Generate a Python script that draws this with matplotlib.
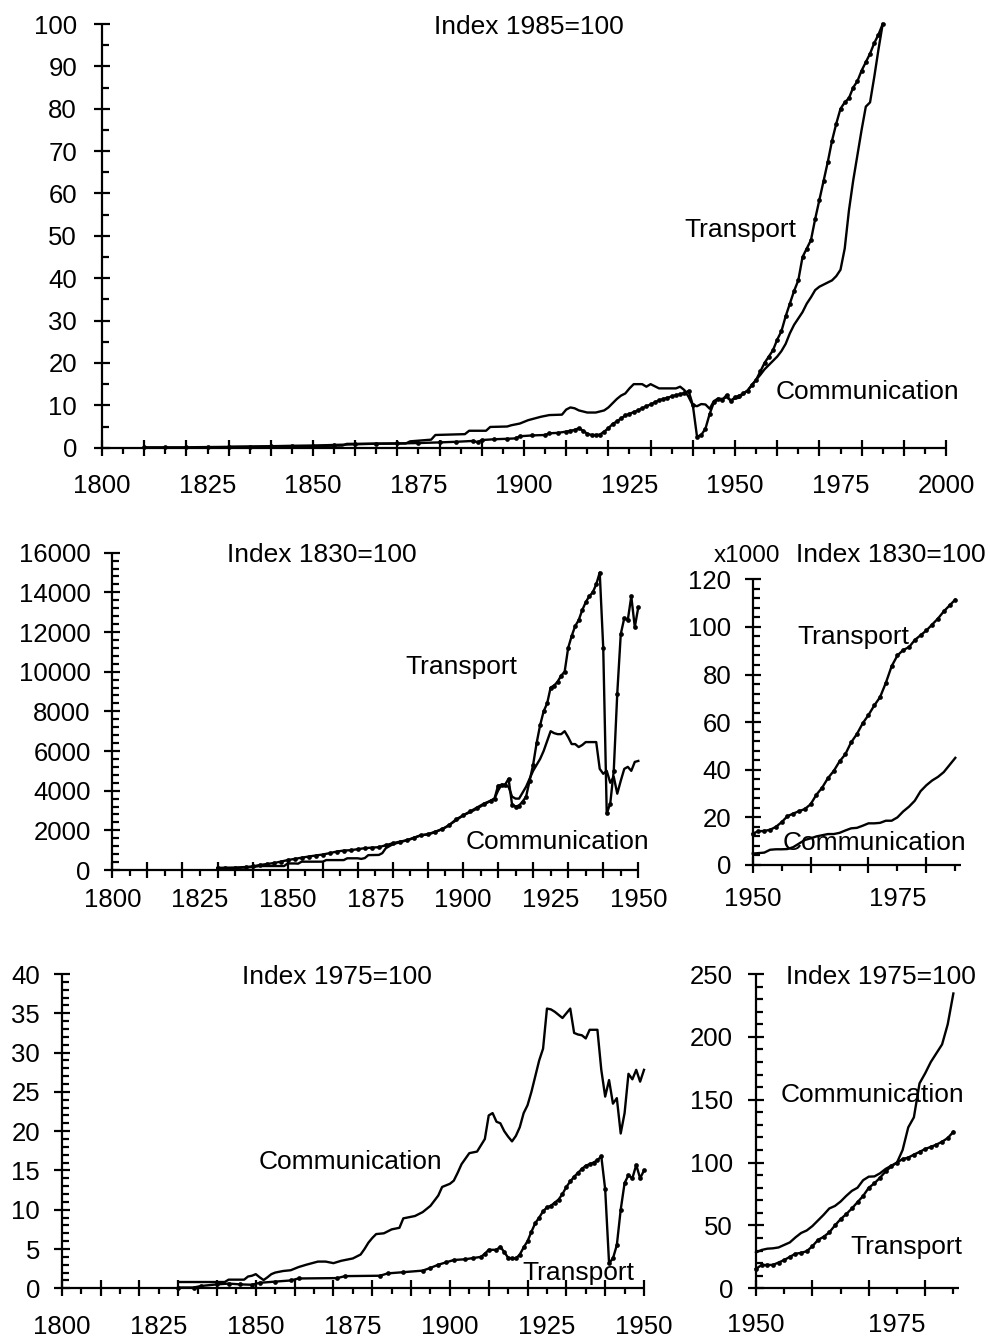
import matplotlib
matplotlib.use("Agg")
import matplotlib.pyplot as plt
from matplotlib.ticker import MultipleLocator, NullFormatter

plt.rcParams['font.family'] = ['Liberation Sans', 'DejaVu Sans']

# ---------------- data ----------------
# Top panel: Index 1985=100
top_transport_years = [1810, 1815, 1820, 1825, 1830, 1835, 1840, 1845, 1850, 1855, 1860, 1865, 1870,
                       1875, 1880, 1884, 1888, 1889, 1890, 1893, 1896, 1898, 1899, 1902, 1905, 1906,
                       1908, 1910, 1911, 1912, 1913, 1914, 1915, 1916, 1917, 1918, 1919, 1920, 1921,
                       1922, 1923, 1924, 1925, 1926, 1927, 1928, 1929, 1930, 1931, 1932, 1933, 1934,
                       1935, 1936, 1937, 1938, 1939, 1940, 1941, 1942, 1943, 1944, 1945, 1946, 1947,
                       1948, 1949, 1950, 1951, 1952, 1953, 1954, 1955, 1956, 1957, 1958, 1959, 1960,
                       1961, 1962, 1963, 1964, 1965, 1966, 1967, 1968, 1969, 1970, 1971, 1972, 1973,
                       1974, 1975, 1976, 1977, 1978, 1979, 1980, 1981, 1982, 1983, 1984, 1985]
top_transport_index = [0.1, 0.1, 0.1, 0.15, 0.2, 0.25, 0.35, 0.45, 0.5, 0.65, 0.8, 0.95, 1.0,
                       1.1, 1.25, 1.4, 1.6, 1.3, 1.8, 2.0, 2.1, 2.2, 2.7, 2.9, 3.0, 3.4,
                       3.5, 3.8, 4.0, 4.2, 4.6, 4.0, 3.3, 3.0, 3.0, 3.1, 3.8, 4.6, 5.6,
                       6.2, 6.9, 7.6, 8.0, 8.4, 8.8, 9.3, 9.8, 10.2, 10.7, 11.2, 11.5, 11.8,
                       12.1, 12.4, 12.6, 12.9, 13.4, 10.1, 2.6, 3.0, 4.5, 8.0, 10.7, 11.4, 11.3,
                       12.4, 11.0, 11.9, 12.3, 12.8, 13.5, 14.8, 16.0, 18.0, 20.0, 21.5, 23.0, 25.5,
                       27.5, 31.0, 34.0, 37.0, 39.5, 45.0, 47.0, 49.0, 54.0, 58.5, 63.0, 67.5, 72.5,
                       76.5, 80.0, 81.5, 82.5, 85.0, 86.5, 89.0, 91.0, 93.0, 95.5, 97.5, 100.0]

top_communication_years = [1830, 1840, 1850, 1857, 1858, 1872, 1873, 1878, 1879, 1886, 1887, 1891,
                           1892, 1896, 1897, 1899, 1901, 1904, 1906, 1909, 1910, 1911, 1912, 1913,
                           1915, 1917, 1919, 1920, 1921, 1922, 1923, 1924, 1925, 1926, 1927, 1928,
                           1929, 1930, 1931, 1932, 1936, 1937, 1938, 1939, 1940, 1941, 1942, 1943,
                           1944, 1945, 1946, 1947, 1948, 1949, 1950, 1951, 1952, 1953, 1954, 1955,
                           1956, 1957, 1958, 1959, 1960, 1961, 1962, 1963, 1964, 1965, 1966, 1967,
                           1968, 1969, 1970, 1971, 1972, 1973, 1974, 1975, 1976, 1977, 1978, 1979,
                           1980, 1981, 1982, 1983, 1984, 1985]
top_communication_index = [0.2, 0.3, 0.4, 0.5, 0.9, 1.0, 1.5, 1.9, 3.0, 3.2, 4.0, 4.0,
                           4.9, 5.0, 5.3, 5.7, 6.5, 7.3, 7.7, 7.8, 9.0, 9.5, 9.3, 8.8,
                           8.3, 8.3, 8.8, 9.5, 10.5, 11.5, 12.3, 12.8, 14.0, 15.0, 15.0, 15.0,
                           14.4, 15.0, 14.5, 14.0, 14.0, 14.4, 13.6, 12.0, 10.0, 9.8, 10.3, 10.2,
                           9.2, 11.0, 11.6, 11.5, 11.9, 11.2, 11.6, 11.8, 12.8, 13.5, 14.8, 16.0,
                           17.2, 18.5, 19.5, 20.5, 21.5, 22.8, 24.5, 27.0, 29.0, 30.5, 32.0, 34.0,
                           35.5, 37.2, 38.0, 38.5, 39.0, 39.5, 40.5, 42.0, 47.0, 56.0, 63.0, 69.0,
                           75.0, 80.5, 81.5, 87.5, 94.0, 100.0]

# Middle-left panel: Index 1830=100, 1830-1950
mid_transport_years = [1830, 1832, 1835, 1838, 1840, 1842, 1844, 1846, 1848, 1850, 1852, 1854, 1856,
                       1858, 1860, 1862, 1864, 1866, 1868, 1870, 1872, 1874, 1876, 1878, 1880, 1882,
                       1884, 1886, 1888, 1890, 1892, 1894, 1896, 1898, 1900, 1902, 1904, 1906, 1908,
                       1909, 1910, 1911, 1912, 1913, 1914, 1915, 1916, 1917, 1918, 1919, 1920, 1921,
                       1922, 1923, 1924, 1925, 1926, 1927, 1928, 1929, 1930, 1931, 1932, 1933, 1934,
                       1935, 1936, 1937, 1938, 1939, 1940, 1941, 1942, 1943, 1944, 1945, 1946, 1947,
                       1948, 1949, 1950]
mid_transport_index = [100, 110, 120, 150, 180, 250, 300, 350, 420, 500, 560, 620, 680,
                       730, 780, 850, 930, 980, 1000, 1050, 1100, 1130, 1150, 1250, 1350, 1430,
                       1500, 1630, 1750, 1800, 1930, 2050, 2250, 2550, 2750, 2950, 3150, 3350, 3500,
                       3600, 4250, 4300, 4300, 4600, 3300, 3200, 3250, 3450, 3700, 4500, 5300, 6400,
                       7300, 8000, 8400, 9200, 9300, 9500, 9800, 10000, 11200, 11800, 12300, 12600, 13100,
                       13500, 13800, 14000, 14400, 15000, 11200, 2850, 3350, 5000, 8900, 11900, 12700, 12600,
                       13800, 12250, 13250]

mid_communication_years = [1830, 1835, 1840, 1842, 1849, 1850, 1852, 1853, 1854, 1860, 1861, 1866,
                           1867, 1870, 1871, 1872, 1873, 1876, 1877, 1878, 1880, 1882, 1885, 1888,
                           1890, 1892, 1895, 1898, 1900, 1903, 1906, 1908, 1909, 1910, 1911, 1912,
                           1913, 1914, 1915, 1916, 1917, 1918, 1919, 1920, 1921, 1922, 1923, 1924,
                           1925, 1926, 1927, 1928, 1929, 1930, 1931, 1932, 1933, 1934, 1935, 1936,
                           1937, 1938, 1939, 1940, 1941, 1942, 1943, 1944, 1945, 1946, 1947, 1948,
                           1949, 1950]
mid_communication_index = [100, 100, 150, 200, 200, 330, 330, 320, 420, 420, 500, 500,
                           590, 590, 560, 600, 750, 760, 850, 1100, 1300, 1400, 1550, 1750,
                           1800, 1900, 2150, 2500, 2750, 3000, 3300, 3500, 3600, 4000, 4300, 4250,
                           4200, 3700, 3600, 3600, 3900, 4200, 4600, 5000, 5300, 5600, 6000, 6500,
                           7000, 6900, 6850, 6850, 7000, 6700, 6350, 6350, 6200, 6300, 6450, 6450,
                           6450, 6450, 5100, 4850, 5000, 4400, 4700, 3850, 4500, 5100, 5200, 5000,
                           5450, 5500]

# Middle-right panel: Index 1830=100 (x1000), 1950-1985
late_years = list(range(1950, 1986))
late_transport_index_1830 = [13.2, 14.2, 14.3, 14.8, 16.0, 18.0, 20.5, 21.6, 22.6, 23.5, 25.5, 29.5,
                             32.5, 36.5, 39.5, 43.5, 46.5, 51.5, 55.0, 59.5, 63.0, 67.0, 70.5, 76.5,
                             83.5, 88.0, 90.3, 91.5, 94.5, 96.5, 98.5, 101.0, 103.5, 106.5, 109.0, 111.5]
late_communication_index_1830 = [4.8, 5.0, 5.2, 6.4, 6.6, 6.6, 6.7, 7.5, 9.0, 10.5, 11.2, 12.0,
                                 12.5, 13.0, 13.0, 13.5, 14.5, 15.4, 15.6, 16.5, 17.5, 17.5, 17.7, 18.6,
                                 18.6, 20.0, 22.5, 24.5, 27.0, 31.0, 33.5, 35.5, 37.0, 39.0, 42.0, 45.0]

# Bottom-left panel: Index 1975=100, 1830-1950
bot_transport_years = [1830, 1834, 1836, 1840, 1843, 1846, 1849, 1851, 1855, 1859, 1861, 1871, 1873,
                       1882, 1884, 1888, 1893, 1895, 1897, 1899, 1901, 1904, 1906, 1908, 1909, 1910,
                       1912, 1913, 1914, 1915, 1916, 1917, 1918, 1919, 1920, 1921, 1922, 1923, 1924,
                       1925, 1926, 1927, 1928, 1929, 1930, 1931, 1932, 1933, 1934, 1935, 1936, 1937,
                       1938, 1939, 1940, 1941, 1942, 1943, 1944, 1945, 1946, 1947, 1948, 1949, 1950]
bot_transport_index = [0.1, 0.1, 0.3, 0.5, 0.6, 0.5, 0.45, 0.7, 0.85, 1.0, 1.25, 1.3, 1.55,
                       1.6, 1.9, 2.05, 2.25, 2.6, 3.0, 3.3, 3.6, 3.7, 3.85, 4.0, 4.4, 4.9,
                       4.9, 5.3, 4.6, 3.9, 3.8, 3.8, 4.3, 5.2, 6.0, 7.2, 8.3, 9.0, 9.8,
                       10.3, 10.5, 10.9, 11.3, 12.0, 12.9, 13.6, 14.2, 14.7, 15.2, 15.6, 15.8, 16.0,
                       16.3, 16.8, 12.6, 3.2, 3.8, 5.5, 10.0, 13.4, 14.4, 14.0, 15.7, 14.0, 15.0]

bot_communication_years = [1830, 1837, 1842, 1843, 1847, 1848, 1849, 1850, 1851, 1852, 1853, 1854,
                           1855, 1857, 1859, 1861, 1863, 1866, 1868, 1870, 1872, 1875, 1877, 1878,
                           1879, 1880, 1881, 1883, 1885, 1887, 1888, 1891, 1893, 1895, 1897, 1898,
                           1900, 1901, 1902, 1903, 1904, 1905, 1906, 1907, 1908, 1909, 1910, 1911,
                           1912, 1913, 1914, 1915, 1916, 1917, 1918, 1919, 1920, 1921, 1922, 1923,
                           1924, 1925, 1926, 1927, 1928, 1929, 1930, 1931, 1932, 1933, 1934, 1935,
                           1936, 1937, 1938, 1939, 1940, 1941, 1942, 1943, 1944, 1945, 1946, 1947,
                           1948, 1949, 1950]
bot_communication_index = [0.8, 0.8, 0.8, 1.1, 1.1, 1.5, 1.6, 1.8, 1.4, 1.05, 1.4, 1.8,
                           2.0, 2.2, 2.3, 2.7, 3.0, 3.4, 3.4, 3.2, 3.5, 3.8, 4.3, 5.0,
                           5.8, 6.4, 6.9, 7.0, 7.5, 7.7, 8.9, 9.2, 9.7, 10.5, 11.8, 12.9,
                           13.3, 13.7, 14.7, 15.8, 16.5, 17.2, 17.3, 17.4, 18.2, 19.0, 22.0, 22.3,
                           21.2, 21.0, 20.0, 19.3, 18.7, 19.4, 20.5, 22.3, 23.3, 25.0, 27.0, 29.0,
                           30.5, 35.6, 35.5, 35.2, 34.8, 34.4, 35.0, 35.6, 32.5, 32.3, 32.2, 31.8,
                           32.9, 32.9, 32.9, 27.8, 24.4, 26.5, 23.5, 24.2, 19.7, 22.3, 27.3, 26.6,
                           27.8, 26.3, 27.8]

# Bottom-right panel: Index 1975=100, 1950-1985
late_transport_index_1975 = [15.5, 18.5, 18.6, 18.6, 20.5, 22.5, 25.0, 27.5, 28.2, 29.5, 33.5, 38.5,
                             41.0, 44.5, 50.0, 55.0, 59.0, 63.5, 68.5, 73.5, 80.0, 83.5, 88.0, 93.0,
                             97.0, 100.0, 102.8, 104.0, 106.3, 108.5, 110.8, 112.5, 114.3, 116.6, 119.5, 124.5]
late_communication_index_1975 = [28.5, 30.5, 31.5, 31.8, 32.5, 34.5, 36.5, 40.5, 44.0, 46.0, 49.5, 54.0,
                                 58.5, 63.5, 65.5, 69.0, 73.5, 77.5, 80.0, 86.0, 88.8, 89.0, 91.5, 95.0,
                                 97.5, 100.0, 110.0, 128.0, 136.0, 163.0, 171.0, 180.0, 187.0, 194.0, 210.0, 234.5]

long_labels = [1800, 1825, 1850, 1875, 1900, 1925, 1950, 1975, 2000]

# ---------------- layout ----------------
W, H = 990, 1340
fig = plt.figure(figsize=(W / 100, H / 100), dpi=100)
fig.patch.set_facecolor('white')


def add_axes_px(left, right, top, bottom):
    return fig.add_axes([left / W, 1 - bottom / H, (right - left) / W, (bottom - top) / H])


TICK_FS = 18.5
TEXT_FS = 19


def style(ax, xlim, ylim, ymajor, yminor, label_years, ypad, xpad):
    ax.set_xlim(*xlim)
    ax.set_ylim(*ylim)
    for s in ('top', 'right'):
        ax.spines[s].set_visible(False)
    for s in ('left', 'bottom'):
        ax.spines[s].set_linewidth(1.6)
        ax.spines[s].set_capstyle('butt')
    ax.xaxis.set_major_locator(MultipleLocator(10))
    ax.xaxis.set_minor_locator(MultipleLocator(5))
    ax.xaxis.set_major_formatter(NullFormatter())
    ax.tick_params(axis='x', which='major', direction='inout', length=11, width=1.6)
    ax.tick_params(axis='x', which='minor', direction='out', length=4.5, width=1.6)
    ax.yaxis.set_major_locator(MultipleLocator(ymajor))
    ax.yaxis.set_minor_locator(MultipleLocator(yminor))
    ax.tick_params(axis='y', which='major', direction='inout', length=12, width=1.6,
                   labelsize=TICK_FS, pad=ypad)
    ax.tick_params(axis='y', which='minor', direction='in', length=5, width=1.6)
    sec = ax.secondary_xaxis('bottom')
    labs = [y for y in label_years if xlim[0] <= y <= xlim[1]]
    sec.set_xticks(labs, [str(y) for y in labs])
    sec.tick_params(axis='x', length=0, labelsize=TICK_FS, pad=xpad)
    sec.spines['bottom'].set_visible(False)
    ax.set_facecolor('none')


def plot_pair(ax, tx, ty, cx, cy):
    ax.plot(cx, cy, color='black', lw=1.7, clip_on=False, zorder=3)
    ax.plot(tx, ty, color='black', lw=1.7, marker='o', markersize=3.4, markeredgewidth=0,
            clip_on=False, zorder=4)


def ftext(x, y, s, fs=TEXT_FS, ha='center'):
    fig.text(x / W, 1 - y / H, s, fontsize=fs, ha=ha, va='baseline', color='black')


# Top panel
ax1 = add_axes_px(102, 946, 24, 447.7)
style(ax1, (1800, 2000), (0, 100), 10, 5, long_labels, 12, 19)
plot_pair(ax1, top_transport_years, top_transport_index,
          top_communication_years, top_communication_index)

# Middle-left
ax2 = add_axes_px(112.3, 638.3, 552.7, 870)
style(ax2, (1800, 1950), (0, 16000), 2000, 400, long_labels, 9.5, 13)
plot_pair(ax2, mid_transport_years, mid_transport_index,
          mid_communication_years, mid_communication_index)

# Middle-right
ax3 = add_axes_px(752.7, 961.1, 579.3, 865)
style(ax3, (1950, 1986), (0, 120), 20, 4, long_labels, 9.5, 16)
plot_pair(ax3, late_years, late_transport_index_1830,
          late_years, late_communication_index_1830)

# Bottom-left
ax4 = add_axes_px(61.7, 644, 974, 1288.3)
style(ax4, (1800, 1950), (0, 40), 5, 1, long_labels, 9.5, 19)
plot_pair(ax4, bot_transport_years, bot_transport_index,
          bot_communication_years, bot_communication_index)

# Bottom-right
ax5 = add_axes_px(756, 959, 974, 1288.3)
style(ax5, (1950, 1986), (0, 250), 50, 10, long_labels, 10.5, 18)
plot_pair(ax5, late_years, late_transport_index_1975,
          late_years, late_communication_index_1975)

# Texts
ftext(529, 34, "Index 1985=100")
ftext(740, 237, "Transport")
ftext(867.5, 399, "Communication")

ftext(322, 562, "Index 1830=100")
ftext(461, 674, "Transport")
ftext(557.5, 849, "Communication")

ftext(746.5, 562, "x1000", fs=17.5)
ftext(891, 562, "Index 1830=100")
ftext(853, 644, "Transport")
ftext(874, 850, "Communication")

ftext(337, 984, "Index 1975=100")
ftext(350, 1169, "Communication")
ftext(578, 1280, "Transport")

ftext(881, 984, "Index 1975=100")
ftext(872.5, 1102, "Communication")
ftext(906.7, 1254, "Transport")

fig.savefig("out.png", dpi=100, facecolor='white')
